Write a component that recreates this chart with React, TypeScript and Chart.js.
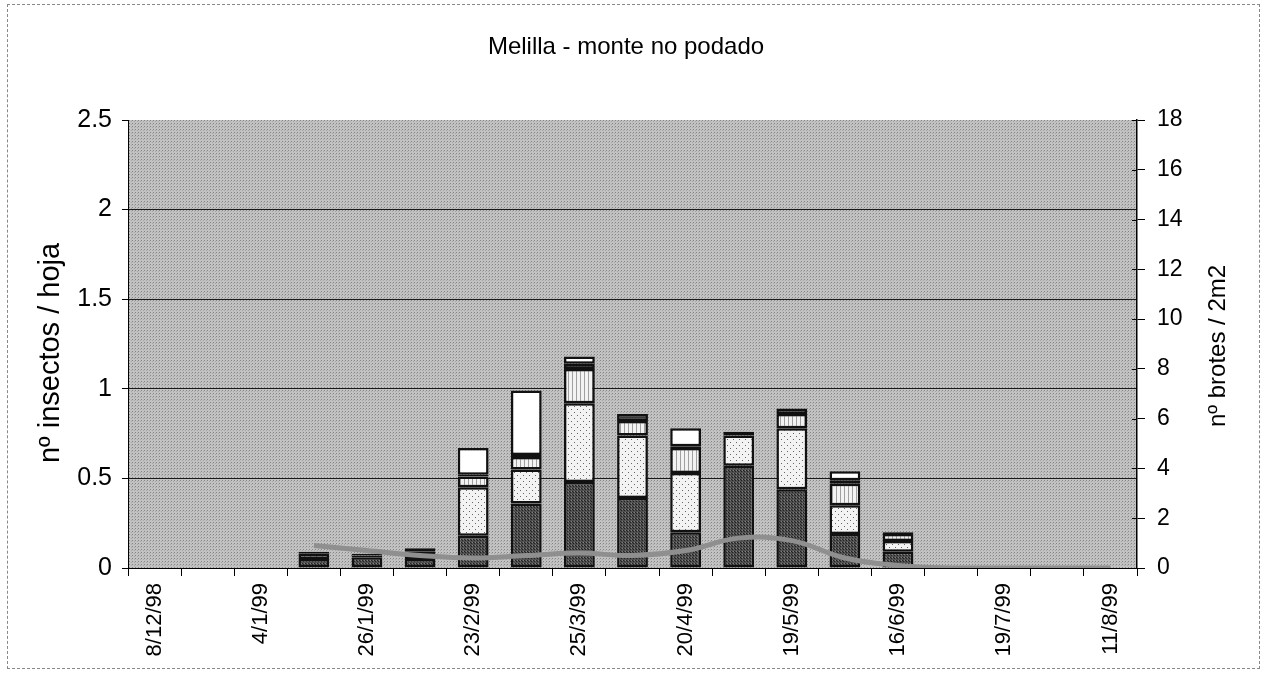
import React, { useEffect, useRef } from 'react';
import { Chart, registerables } from 'chart.js';

Chart.register(...registerables);

const TITLE = 'Melilla - monte no podado';
const LEFT_TITLE = 'nº insectos / hoja';
const RIGHT_TITLE = 'nº brotes / 2m2';

// 19 categories, every other one labelled
const dateLabels = [
  '8/12/98', '', '4/1/99', '', '26/1/99', '', '23/2/99', '', '25/3/99', '',
  '20/4/99', '', '19/5/99', '', '16/6/99', '', '19/7/99', '', '11/8/99',
];

// stacked insect series (nº insectos / hoja), bottom to top
const serieDark = [null, null, null, 0.05, 0.06, 0.05, 0.18, 0.36, 0.48, 0.39, 0.20, 0.57, 0.44, 0.19, 0.09, null, null, null, null];
const serieDotted = [null, null, null, 0.03, 0.01, 0.04, 0.27, 0.19, 0.44, 0.35, 0.33, 0.17, 0.34, 0.16, 0.06, null, null, null, null];
const serieStriped = [null, null, null, null, null, null, 0.06, 0.07, 0.19, 0.08, 0.14, null, 0.08, 0.12, 0.04, null, null, null, null];
const serieBand = [null, null, null, 0.01, 0.01, 0.02, 0.01, 0.01, 0.03, 0.04, 0.01, 0.02, 0.03, 0.02, 0.01, null, null, null, null];
const serieWhite = [null, null, null, null, null, null, 0.15, 0.36, 0.04, null, 0.10, null, null, 0.05, null, null, null, null, null];

// line series (nº brotes / 2m2), right axis
const brotes = [null, null, null, 0.9, 0.7, 0.5, 0.4, 0.5, 0.6, 0.5, 0.7, 1.2, 1.1, 0.4, 0.1, 0, 0, 0, 0];

const leftMax = 2.5;
const leftStep = 0.5;
const rightMax = 18;
const rightStep = 2;

const FONT = '"Liberation Sans", Arial, sans-serif';

function makePattern(
  ctx: CanvasRenderingContext2D,
  size: number,
  bg: string,
  draw: (g: CanvasRenderingContext2D) => void
): CanvasPattern | string {
  const c = document.createElement('canvas');
  c.width = size;
  c.height = size;
  const g = c.getContext('2d');
  if (!g) return bg;
  g.fillStyle = bg;
  g.fillRect(0, 0, size, size);
  draw(g);
  return ctx.createPattern(c, 'repeat') || bg;
}

export default function App() {
  const canvasRef = useRef<HTMLCanvasElement | null>(null);

  useEffect(() => {
    const canvas = canvasRef.current;
    if (!canvas) return;
    const ctx = canvas.getContext('2d');
    if (!ctx) return;

    const bgPattern = makePattern(ctx, 3, '#c2c2c2', (g) => {
      g.fillStyle = '#858585';
      g.fillRect(0, 0, 1, 1);
      g.fillStyle = '#a6a6a6';
      g.fillRect(2, 1, 1, 1);
    });
    const darkPattern = makePattern(ctx, 3, '#505050', (g) => {
      g.fillStyle = '#222';
      g.fillRect(0, 0, 1, 1);
      g.fillRect(2, 2, 1, 1);
      g.fillStyle = '#808080';
      g.fillRect(1, 2, 1, 1);
    });
    const dotPattern = makePattern(ctx, 6, '#f3f3f3', (g) => {
      g.fillStyle = '#666';
      g.fillRect(1, 1, 1, 1);
      g.fillRect(4, 4, 1, 1);
    });
    const stripePattern = makePattern(ctx, 4, '#f3f3f3', (g) => {
      g.fillStyle = '#a0a0a0';
      g.fillRect(0, 0, 1, 4);
    });

    const bgPlugin = {
      id: 'plotBg',
      beforeDraw(chart: any) {
        const a = chart.chartArea;
        const c = chart.ctx;
        c.save();
        c.fillStyle = bgPattern;
        c.fillRect(a.left, a.top, a.right - a.left, a.bottom - a.top);
        c.restore();
      },
    };

    const textPlugin = {
      id: 'texts',
      afterDraw(chart: any) {
        const c = chart.ctx;
        const a = chart.chartArea;
        c.save();
        c.fillStyle = '#000';
        c.textAlign = 'center';
        c.textBaseline = 'middle';
        c.font = `24px ${FONT}`;
        c.fillText(TITLE, 626, 47);

        c.font = `29px ${FONT}`;
        c.save();
        c.translate(51, 353);
        c.rotate(-Math.PI / 2);
        c.fillText(LEFT_TITLE, 0, 0);
        c.restore();

        c.font = `24px ${FONT}`;
        c.save();
        c.translate(1218, 346);
        c.rotate(-Math.PI / 2);
        c.fillText(RIGHT_TITLE, 0, 0);
        c.restore();

        // inner tick marks of the right axis
        const y1 = chart.scales.y1;
        c.strokeStyle = '#000';
        c.lineWidth = 1;
        y1.ticks.forEach((t: any) => {
          const y = Math.round(y1.getPixelForValue(t.value)) + 0.5;
          c.beginPath();
          c.moveTo(a.right - 5, y);
          c.lineTo(a.right, y);
          c.stroke();
        });
        c.restore();
      },
    };

    const barCommon = {
      type: 'bar' as const,
      yAxisID: 'y',
      stack: 'insectos',
      borderColor: '#111',
      borderWidth: 2.5,
      borderSkipped: false,
      barPercentage: 0.58,
      categoryPercentage: 1.0,
      order: 1,
    };

    const chart = new Chart(ctx, {
      type: 'bar',
      data: {
        labels: dateLabels,
        datasets: [
          {
            type: 'line',
            label: 'brotes',
            data: brotes,
            yAxisID: 'y1',
            borderColor: '#8f8f8f',
            borderWidth: 5,
            pointRadius: 0,
            tension: 0.4,
            order: 0,
          } as any,
          { ...barCommon, label: 's1', data: serieDark, backgroundColor: darkPattern },
          { ...barCommon, label: 's2', data: serieDotted, backgroundColor: dotPattern },
          { ...barCommon, label: 's3', data: serieStriped, backgroundColor: stripePattern },
          { ...barCommon, label: 's4', data: serieBand, backgroundColor: '#3a3a3a' },
          { ...barCommon, label: 's5', data: serieWhite, backgroundColor: '#ffffff' },
        ],
      },
      options: {
        animation: false,
        responsive: false,
        maintainAspectRatio: false,
        layout: { padding: { top: 120, left: 0, right: 0, bottom: 0 } },
        plugins: {
          legend: { display: false },
          tooltip: { enabled: false },
          title: { display: false },
        },
        scales: {
          x: {
            type: 'category',
            offset: true,
            stacked: true,
            grid: {
              offset: true,
              drawOnChartArea: false,
              drawTicks: true,
              tickLength: 8,
              color: '#000',
            },
            border: { display: true, color: '#000', width: 1 },
            ticks: {
              autoSkip: false,
              maxRotation: 90,
              minRotation: 90,
              padding: 7,
              color: '#000',
              font: { family: FONT, size: 22 },
            },
            afterFit(s: any) {
              s.height = 106;
            },
          },
          y: {
            position: 'left',
            stacked: true,
            min: 0,
            max: leftMax,
            ticks: {
              stepSize: leftStep,
              padding: 10,
              color: '#000',
              font: { family: FONT, size: 25 },
              callback: (v: any) => String(v),
            },
            grid: {
              color: (c: any) => (c.tick && c.tick.value >= leftMax ? 'rgba(0,0,0,0)' : '#1a1a1a'),
              tickColor: '#000',
              lineWidth: 1,
              tickLength: 6,
            },
            border: { display: true, color: '#000', width: 1 },
            afterFit(s: any) {
              s.width = 128;
            },
          },
          y1: {
            position: 'right',
            min: 0,
            max: rightMax,
            ticks: {
              stepSize: rightStep,
              padding: 12,
              color: '#000',
              font: { family: FONT, size: 23 },
            },
            grid: {
              drawOnChartArea: false,
              color: '#000',
              tickLength: 8,
            },
            border: { display: true, color: '#000', width: 1.5 },
            afterFit(s: any) {
              s.width = 128;
            },
          },
        },
      } as any,
      plugins: [bgPlugin, textPlugin],
    });

    return () => {
      chart.destroy();
    };
  }, []);

  return (
    <div style={{ position: 'absolute', left: 0, top: 0, width: 1265, height: 674, background: '#fff' }}>
      <div
        style={{
          position: 'absolute',
          left: 7,
          top: 4,
          width: 1251,
          height: 663,
          border: '1px dashed #888',
          pointerEvents: 'none',
        }}
      />
      <canvas
        ref={canvasRef}
        width={1265}
        height={674}
        style={{ position: 'absolute', left: 0, top: 0, width: 1265, height: 674 }}
      />
    </div>
  );
}
